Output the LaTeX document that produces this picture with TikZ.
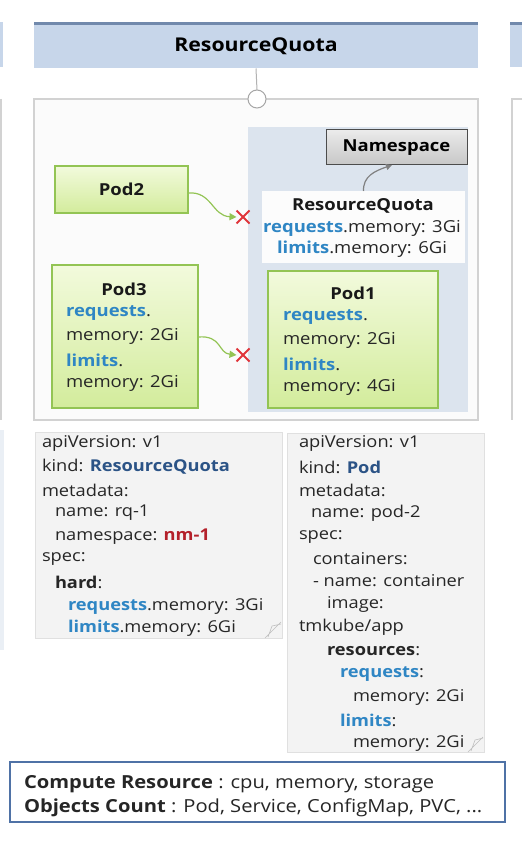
\documentclass[tikz,border=0pt]{standalone}
\usepackage{fontspec}
\setmainfont[FakeStretch=1.12]{Open Sans}
\usetikzlibrary{arrows.meta,shapes.misc}
\definecolor{hdrfill}{HTML}{C7D6EA}
\definecolor{hdrline}{HTML}{7189AC}
\definecolor{nsfill}{HTML}{DCE4EE}
\definecolor{framegray}{HTML}{D2D2D2}
\definecolor{gtop}{HTML}{F2FADC}
\definecolor{gbot}{HTML}{D3EC9C}
\definecolor{gborder}{HTML}{93C454}
\definecolor{reqblue}{HTML}{2F86C4}
\definecolor{kindblue}{HTML}{2B5386}
\definecolor{nmred}{HTML}{B4202A}
\definecolor{xred}{HTML}{E0353A}
\definecolor{yamlfill}{HTML}{F3F3F3}
\definecolor{botblue}{HTML}{4F72A6}
\tikzset{
  x=1pt, y=-1pt,
  every node/.style={inner sep=0pt, outer sep=0pt},
  greenbox/.style={draw=gborder, line width=1.2pt, top color=gtop, bottom color=gbot, rectangle},
  txt/.style={anchor=west, font=\fontsize{16.5}{19}\selectfont, text=black!85},
  ttl/.style={font=\bfseries\fontsize{16.5}{19}\selectfont, text=black!90},
  yaml/.style={anchor=west, font=\fontsize{16.3}{18}\selectfont, text=black!85},
  garrow/.style={draw=gborder, line width=1.2pt, -{Triangle[length=7pt,width=7pt]}},
  xmark/.style={cross out, draw=xred, line width=2pt, minimum size=13pt},
  yamlbox/.style={fill=yamlfill, draw=black!12, line width=0.6pt, rectangle},
}
\newcommand{\reqkw}[1]{\textcolor{reqblue}{\bfseries #1}}
\begin{document}
\begin{tikzpicture}
\useasboundingbox[fill=white] (0,0) rectangle (522,850);
% side fragments of neighbouring panels
\fill[hdrfill] (0,22) rectangle (3,67);
\fill[hdrfill] (510,22) rectangle (522,67);
\fill[hdrline] (510,22) rectangle (522,25);
\draw[framegray, line width=1.5pt] (1,99) -- (1,420);
\draw[framegray, line width=1.5pt] (522,99) -- (512,99) -- (512,420);
\fill[nsfill!60] (0,430) rectangle (4,650);
% header
\node[fill=hdrfill, minimum width=444pt, minimum height=45pt, font=\bfseries\fontsize{19}{22}\selectfont] (hdr) at (256,46) {ResourceQuota};
\fill[hdrline] (34,22) rectangle (478,25);
% main frame
\node[draw=framegray, line width=1.5pt, fill=white!97!gray, minimum width=444pt, minimum height=321pt] (frame) at (256,259.5) {};
\node[draw=black!35, line width=1pt, fill=white, circle, minimum size=18pt] (knob) at (257,99) {};
\draw[black!30, line width=1pt] (hdr.south) -- (knob.north);
% namespace area
\node[fill=nsfill, minimum width=220pt, minimum height=285pt] (nsarea) at (358,269.5) {};
\node[draw=black!70, line width=1pt, top color=white!92!black, bottom color=black!22, minimum width=141pt, minimum height=35pt, font=\bfseries\fontsize{16.5}{19}\selectfont] (ns) at (396.5,147.5) {Namespace};
% ResourceQuota object
\node[fill=white!98!gray, minimum width=203pt, minimum height=72pt] (rqbox) at (363.5,227) {};
\node[ttl] (rqt) at (363,206) {ResourceQuota};
\node[font=\fontsize{16.5}{19}\selectfont, text=black!85] (rq1) at (362,228) {\reqkw{requests}.memory: 3Gi};
\node[font=\fontsize{16.5}{19}\selectfont, text=black!85] (rq2) at (362,249.5) {\reqkw{limits}.memory: 6Gi};
\draw[black!50, line width=1.2pt, -{Triangle[length=6pt,width=6pt]}] (rqbox.north) .. controls (363,176) and (375,171) .. (ns.south -| 392,0);
% Pod1
\node[greenbox, minimum width=170pt, minimum height=137pt] (pod1) at (353,339.5) {};
\node[ttl] (p1t) at (353,293) {Pod1};
\node[txt] (p1a) at (283,317) {\reqkw{requests}.};
\node[txt] (p1b) at (283,340) {memory: 2Gi};
\node[txt] (p1c) at (283,364) {\reqkw{limits}.};
\node[txt] (p1d) at (283,387) {memory: 4Gi};
% Pod2
\node[greenbox, minimum width=133pt, minimum height=47pt, ttl] (pod2) at (121.5,189.5) {Pod2};
\node[xmark] (x2) at (243,217) {};
\draw[garrow] (pod2.east |- 0,193) .. controls (212,191) and (212,216) .. (x2.west);
% Pod3
\node[greenbox, minimum width=146pt, minimum height=143pt] (pod3) at (125,336.5) {};
\node[ttl] (p3t) at (124,289) {Pod3};
\node[txt] (p3a) at (66,313) {\reqkw{requests}.};
\node[txt] (p3b) at (66,336) {memory: 2Gi};
\node[txt] (p3c) at (66,360) {\reqkw{limits}.};
\node[txt] (p3d) at (66,383) {memory: 2Gi};
\node[xmark] (x3) at (243,355) {};
\draw[garrow] (pod3.east |- 0,337) .. controls (222,335) and (218,353) .. (x3.west);
% YAML 1
\node[yamlbox, minimum width=247pt, minimum height=206pt] (y1) at (158.5,535) {};
\draw[black!25, line width=0.6pt] (265,638) -- (281,622) (268,637) -- (272,626) -- (281,624);
\node[yaml] (y1a) at (42,443) {apiVersion: v1};
\node[yaml] (y1b) at (42,467) {kind: \textcolor{kindblue}{\bfseries ResourceQuota}};
\node[yaml] (y1c) at (42,490) {metadata:};
\node[yaml] (y1d) at (55,513) {name: rq-1};
\node[yaml] (y1e) at (55,537) {namespace: \textcolor{nmred}{\bfseries nm-1}};
\node[yaml] (y1f) at (42,559) {spec:};
\node[yaml] (y1g) at (55,582) {\textbf{hard}:};
\node[yaml] (y1h) at (68,606) {\reqkw{requests}.memory: 3Gi};
\node[yaml] (y1i) at (68,628) {\reqkw{limits}.memory: 6Gi};
% YAML 2
\node[yamlbox, minimum width=197pt, minimum height=319pt] (y2) at (385.5,592.5) {};
\draw[black!25, line width=0.6pt] (468,752) -- (483,737) (471,751) -- (475,740) -- (483,738);
\node[yaml] (y2a) at (299,443) {apiVersion: v1};
\node[yaml] (y2b) at (299,467) {kind: \textcolor{kindblue}{\bfseries Pod}};
\node[yaml] (y2c) at (299,490) {metadata:};
\node[yaml] (y2d) at (311,513) {name: pod-2};
\node[yaml] (y2e) at (299,537) {spec:};
\node[yaml] (y2f) at (313,559) {containers:};
\node[yaml] (y2g) at (313,581) {- name: container};
\node[yaml] (y2h) at (327,604) {image:};
\node[yaml] (y2i) at (299,627) {tmkube/app};
\node[yaml] (y2j) at (327,651) {\textbf{resources}:};
\node[yaml] (y2k) at (340,674) {\reqkw{requests}:};
\node[yaml] (y2l) at (353,697) {memory: 2Gi};
\node[yaml] (y2m) at (340,720) {\reqkw{limits}:};
\node[yaml] (y2n) at (353,743) {memory: 2Gi};
% bottom box
\node[draw=botblue, line width=2pt, fill=white, minimum width=495pt, minimum height=60pt] (bot) at (257.5,792) {};
\node[anchor=west, font=\fontsize{18}{21}\selectfont, text=black!85] (b1) at (24,784) {\textbf{Compute Resource} : cpu, memory, storage};
\node[anchor=west, font=\fontsize{18}{21}\selectfont, text=black!85] (b2) at (24,808) {\textbf{Objects Count} : Pod, Service, ConfigMap, PVC, ...};
\end{tikzpicture}
\end{document}
